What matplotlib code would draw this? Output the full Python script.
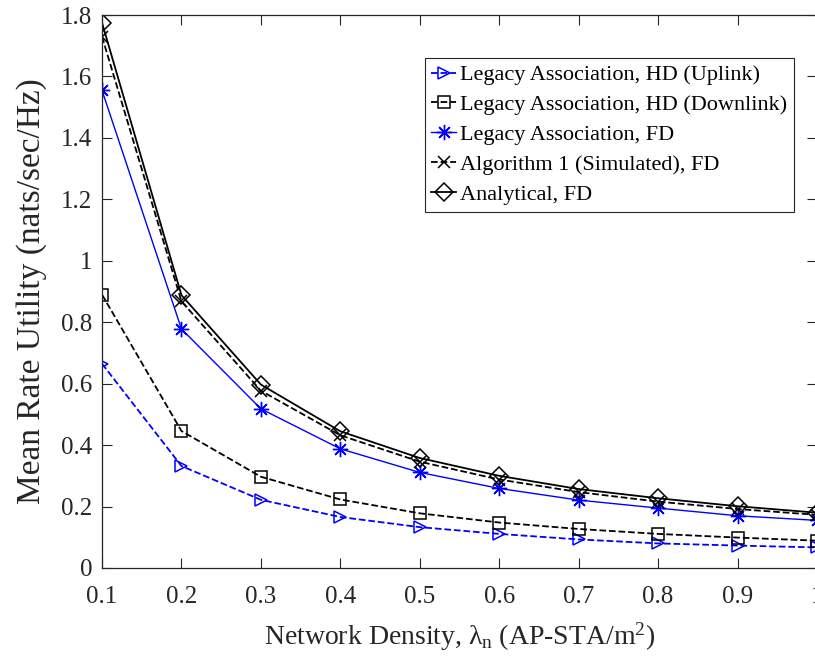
import matplotlib
matplotlib.use("Agg")
import matplotlib.pyplot as plt

# -----------------------------
# Data
# -----------------------------
density = [0.1, 0.2, 0.3, 0.4, 0.5, 0.6, 0.7, 0.8, 0.9, 1.0]

hd_uplink = [0.665, 0.332, 0.222, 0.166, 0.133, 0.111, 0.093, 0.080, 0.073, 0.067]
hd_downlink = [0.890, 0.446, 0.297, 0.223, 0.178, 0.148, 0.127, 0.111, 0.099, 0.089]
legacy_fd = [1.555, 0.778, 0.518, 0.388, 0.311, 0.259, 0.221, 0.195, 0.170, 0.155]
algo_fd = [1.730, 0.868, 0.577, 0.432, 0.346, 0.288, 0.247, 0.216, 0.192, 0.173]
analytic_fd = [1.775, 0.888, 0.597, 0.445, 0.358, 0.300, 0.257, 0.227, 0.201, 0.180]

labels = [
    "Legacy Association, HD (Uplink)",
    "Legacy Association, HD (Downlink)",
    "Legacy Association, FD",
    "Algorithm 1 (Simulated), FD",
    "Analytical, FD",
]

plt.rcParams["font.family"] = ["Liberation Serif", "DejaVu Serif"]
plt.rcParams["mathtext.fontset"] = "custom"
plt.rcParams["mathtext.rm"] = "Liberation Serif"
plt.rcParams["mathtext.it"] = "Liberation Serif"

fig = plt.figure(figsize=(8.15, 6.62), dpi=100)
ax = fig.add_axes([102 / 815, 94 / 662, 715 / 815, 553 / 662])

ax.plot(density, hd_uplink, color="blue", ls="--", lw=1.3, marker=">",
        ms=9, mfc="none", mew=1.1, label=labels[0])
ax.plot(density, hd_downlink, color="black", ls="--", lw=1.3, marker="s",
        ms=9, mfc="none", mew=1.1, label=labels[1])
ax.plot(density, legacy_fd, color="blue", ls="-", lw=1.0, marker=(8, 2, 0),
        ms=11, mew=1.0, label=labels[2])
ax.plot(density, algo_fd, color="black", ls="--", lw=1.3, marker="x",
        ms=8, mew=1.1, label=labels[3])
ax.plot(density, analytic_fd, color="black", ls="-", lw=1.3, marker="D",
        ms=9, mfc="none", mew=1.1, label=labels[4])

ax.set_xlim(0.1, 1.0)
ax.set_ylim(0, 1.8)
ax.set_xticks(density)
ax.set_xticklabels(["0.1", "0.2", "0.3", "0.4", "0.5", "0.6", "0.7", "0.8", "0.9", "1"])
ax.set_yticks([0, 0.2, 0.4, 0.6, 0.8, 1.0, 1.2, 1.4, 1.6, 1.8])
ax.set_yticklabels(["0", "0.2", "0.4", "0.6", "0.8", "1", "1.2", "1.4", "1.6", "1.8"])

ax.tick_params(direction="in", top=True, right=True, length=7, width=0.8,
               labelsize=18, colors="#262626")
ax.tick_params(axis="x", pad=13)
ax.tick_params(axis="y", pad=7)
for s in ax.spines.values():
    s.set_color("#262626")
    s.set_linewidth(0.9)

ax.set_xlabel(r"Network Density, $\lambda_{\rm n}$ (AP-STA/m$^{2}$)",
              fontsize=20, color="#262626", labelpad=9)
ax.set_ylabel("Mean Rate Utility (nats/sec/Hz)", fontsize=24,
              color="#262626", labelpad=10)

leg = ax.legend(loc="upper right", bbox_to_anchor=(0.968, 0.922),
                fontsize=16, fancybox=False, framealpha=1,
                edgecolor="#262626", handlelength=1.1, handletextpad=0.2,
                borderpad=0.3, labelspacing=0.42, borderaxespad=0)
leg.get_frame().set_linewidth(0.8)

fig.savefig("out.png", dpi=100)
